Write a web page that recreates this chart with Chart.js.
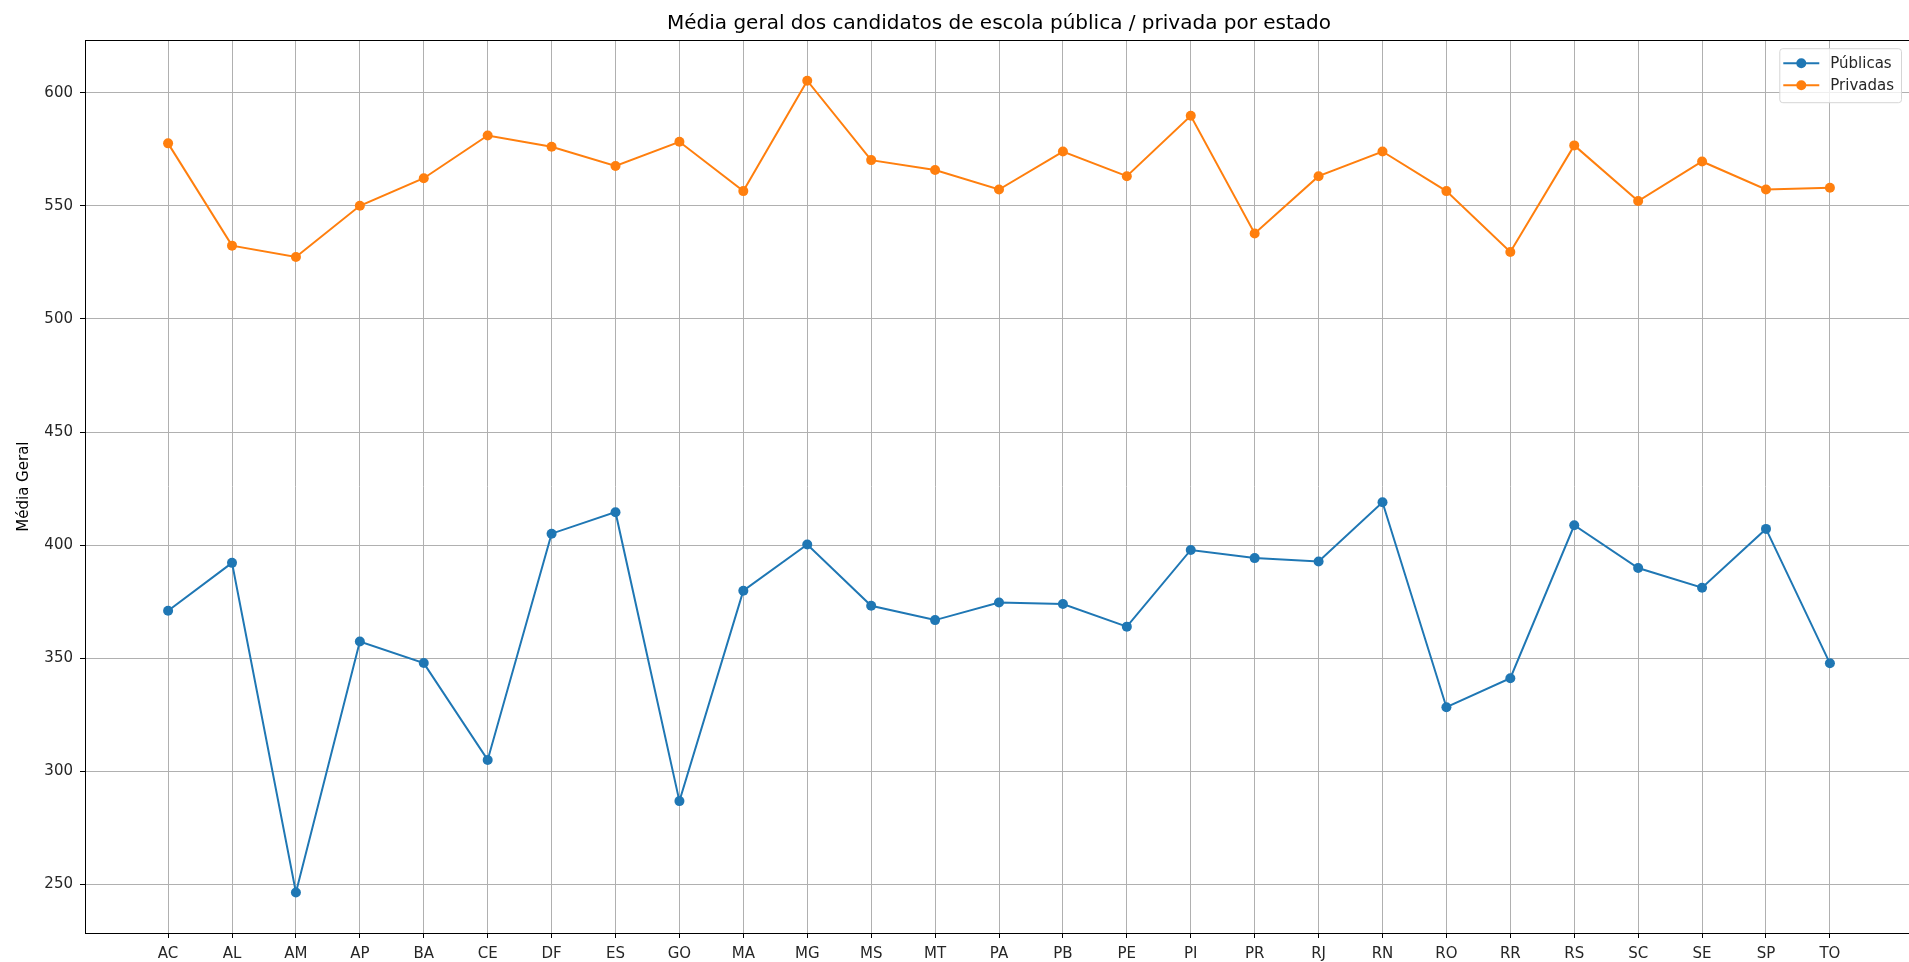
<!DOCTYPE html>
<html>
<head>
<meta charset="utf-8">
<script src="https://cdn.jsdelivr.net/npm/chart.js@4.4.0/dist/chart.umd.min.js"></script>
<style>
  html, body { margin: 0; padding: 0; background: #fff; overflow: hidden; }
  canvas { display: block; }
</style>
</head>
<body>
<canvas id="myChart" width="1918" height="962"></canvas>
<script>
// states (x axis) and the two series
const estados = ['AC', 'AL', 'AM', 'AP', 'BA', 'CE', 'DF', 'ES', 'GO', 'MA', 'MG', 'MS', 'MT', 'PA',
                 'PB', 'PE', 'PI', 'PR', 'RJ', 'RN', 'RO', 'RR', 'RS', 'SC', 'SE', 'SP', 'TO'];
const publicas = [371.0, 392.2, 246.5, 357.4, 347.9, 305.1, 405.1, 414.6, 286.9, 379.9, 400.3, 373.2, 366.9, 374.7,
                  374.0, 364.0, 397.9, 394.3, 392.8, 419.0, 328.4, 341.2, 408.8, 389.9, 381.2, 407.2, 347.8];
const privadas = [577.6, 532.4, 527.4, 550.0, 562.2, 581.1, 576.1, 567.6, 578.3, 556.5, 605.3, 570.2, 565.8, 557.2,
                  574.0, 563.1, 589.8, 537.8, 563.1, 574.0, 556.5, 529.6, 576.7, 552.1, 569.6, 557.2, 558.0];
const yTicks = [250, 300, 350, 400, 450, 500, 550, 600];

const azul = '#1f77b4';
const laranja = '#ff7f0e';

Chart.defaults.font.family = 'DejaVu Sans';
Chart.defaults.color = '#262626';

function pontos(valores) {
  return valores.map((v, i) => ({ x: i, y: v }));
}

// box around the plot, like matplotlib spines
const moldura = {
  id: 'moldura',
  afterDatasetsDraw(chart) {
    const a = chart.chartArea;
    const ctx = chart.ctx;
    ctx.save();
    ctx.strokeStyle = '#000';
    ctx.lineWidth = 1;
    ctx.strokeRect(Math.round(a.left) + 0.5, Math.round(a.top) + 0.5,
                   Math.round(a.right - a.left), Math.round(a.bottom - a.top));
    ctx.restore();
  }
};

// legend in the upper right corner, inside the plot
const legenda = {
  id: 'legenda',
  afterDraw(chart) {
    const a = chart.chartArea;
    const ctx = chart.ctx;
    ctx.save();
    ctx.font = '15px "DejaVu Sans"';
    const sets = chart.data.datasets;
    let maxW = 0;
    sets.forEach(d => { maxW = Math.max(maxW, ctx.measureText(d.label).width); });
    const w = 51 + maxW + 7;
    const h = 54;
    const right = a.right - 12;
    const left = right - w;
    const top = a.top + 8;

    ctx.beginPath();
    ctx.roundRect(left + 0.5, top + 0.5, w, h, 3);
    ctx.fillStyle = 'rgba(255,255,255,0.8)';
    ctx.fill();
    ctx.strokeStyle = '#d5d5d5';
    ctx.lineWidth = 1;
    ctx.stroke();

    sets.forEach((d, i) => {
      const y = top + 15 + i * 22;
      ctx.strokeStyle = d.borderColor;
      ctx.lineWidth = 2;
      ctx.beginPath();
      ctx.moveTo(left + 4, y);
      ctx.lineTo(left + 40, y);
      ctx.stroke();
      ctx.fillStyle = d.borderColor;
      ctx.beginPath();
      ctx.arc(left + 22, y, 5, 0, Math.PI * 2);
      ctx.fill();
      ctx.fillStyle = '#262626';
      ctx.textBaseline = 'middle';
      ctx.fillText(d.label, left + 51, y + 1);
    });
    ctx.restore();
  }
};

const ctx = document.getElementById('myChart').getContext('2d');

const grafico = new Chart(ctx, {
  type: 'line',
  data: {
    datasets: [
      {
        label: 'Públicas',
        data: pontos(publicas),
        borderColor: azul,
        backgroundColor: azul,
        borderWidth: 2,
        pointRadius: 5,
        pointBorderWidth: 0,
        pointBackgroundColor: azul,
        tension: 0
      },
      {
        label: 'Privadas',
        data: pontos(privadas),
        borderColor: laranja,
        backgroundColor: laranja,
        borderWidth: 2,
        pointRadius: 5,
        pointBorderWidth: 0,
        pointBackgroundColor: laranja,
        tension: 0
      }
    ]
  },
  plugins: [moldura, legenda],
  options: {
    responsive: false,
    animation: false,
    layout: { padding: 0 },
    plugins: {
      legend: { display: false },
      tooltip: { enabled: false },
      title: {
        display: true,
        text: 'Média geral dos candidatos de escola pública / privada por estado',
        fullSize: false,
        color: '#000',
        font: { size: 20, weight: 'normal' },
        padding: { top: 12, bottom: 4.2 }
      }
    },
    scales: {
      x: {
        type: 'linear',
        min: -1.3,
        max: 27.3,
        afterBuildTicks: (axis) => { axis.ticks = estados.map((e, i) => ({ value: i })); },
        afterFit: (scale) => { scale.height = 29; },
        ticks: {
          callback: (v) => estados[v],
          font: { size: 15 },
          padding: 7,
          maxRotation: 0,
          autoSkip: false
        },
        grid: { color: '#b0b0b0', lineWidth: 1, tickColor: '#000', tickLength: 5 },
        border: { display: false }
      },
      y: {
        min: 228.6,
        max: 623.2,
        afterBuildTicks: (axis) => { axis.ticks = yTicks.map(v => ({ value: v })); },
        afterFit: (scale) => { scale.width = 85; },
        ticks: { font: { size: 15 }, padding: 7 },
        grid: { color: '#b0b0b0', lineWidth: 1, tickColor: '#000', tickLength: 5 },
        border: { display: false },
        title: {
          display: true,
          text: 'Média Geral',
          color: '#000',
          font: { size: 15 },
          padding: { top: 15, bottom: 0 }
        }
      }
    }
  }
});
</script>
</body>
</html>
